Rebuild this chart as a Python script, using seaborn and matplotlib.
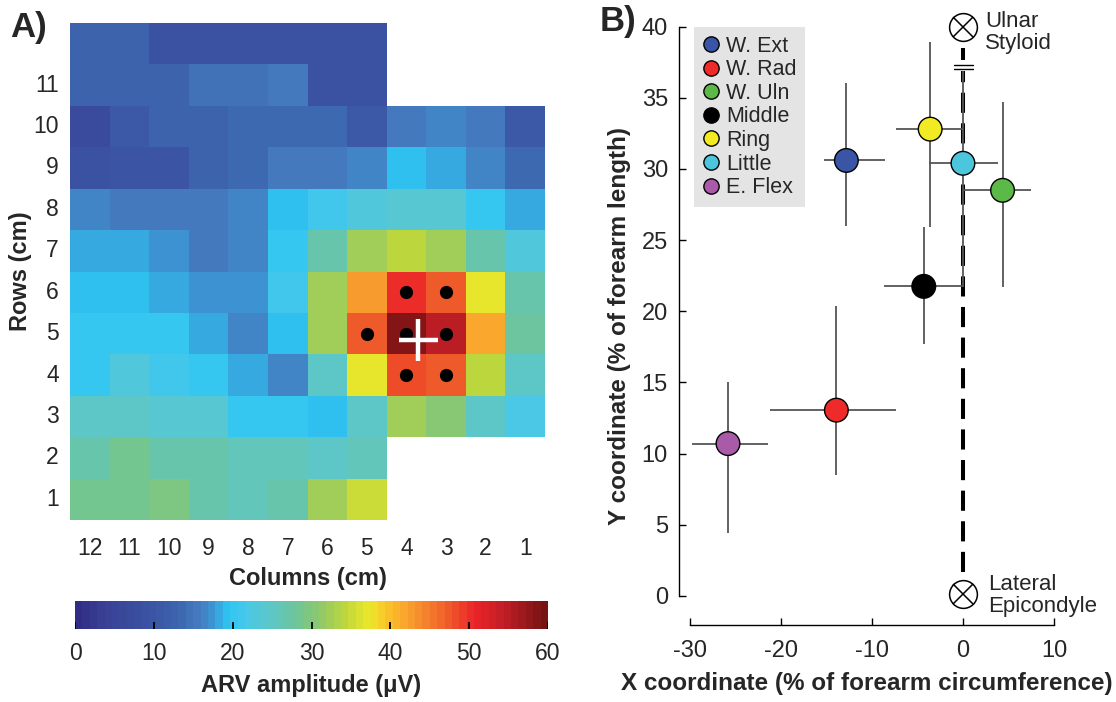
import numpy as np
import pandas as pd
import seaborn as sns
import matplotlib.pyplot as plt
from matplotlib.colors import LinearSegmentedColormap
from matplotlib.lines import Line2D

sns.set_style('white')
plt.rcParams['font.family'] = ['Liberation Sans', 'DejaVu Sans']
plt.rcParams['axes.unicode_minus'] = False

# ---- panel A: ARV amplitude map (uV), rows 12 (top) .. 1, columns 12 .. 1
row_labels = [12, 11, 10, 9, 8, 7, 6, 5, 4, 3, 2, 1]
col_labels = [12, 11, 10, 9, 8, 7, 6, 5, 4, 3, 2, 1]
nan = np.nan
row12 = [13, 13, 9, 8.5, 8.5, 8.5, 9, 9, nan, nan, nan, nan]
row11 = [13, 13, 13, 14.5, 14.5, 15.5, 9, 9, nan, nan, nan, nan]
row10 = [7, 11, 12.5, 12.5, 14, 14, 14, 11, 15.5, 16.7, 15.5, 11]
row9 = [9, 10, 10, 12.5, 14, 15, 15, 16.7, 19.5, 18, 16.7, 14]
row8 = [16.7, 15.5, 15.5, 15.5, 16.7, 19.3, 21, 22.5, 23.5, 23.5, 19.8, 18]
row7 = [18, 18, 17.2, 15.5, 16.7, 19.8, 27, 32, 34.5, 32.5, 27, 22.5]
row6 = [19.3, 19.3, 18, 17.2, 17.2, 21, 32, 43, 50, 47, 37, 27]
row5 = [20.5, 19.8, 19.8, 18, 16.7, 19.3, 32, 47, 59, 55, 42, 28]
row4 = [20.5, 22.5, 21, 19.8, 18, 16.7, 24.5, 37, 48.5, 47, 34.5, 25]
row3 = [24.5, 24.5, 23.5, 23.5, 19.8, 19.8, 19.3, 24.5, 32, 30, 24.5, 22]
row2 = [27, 28.5, 27, 27, 26, 26, 25, 26, nan, nan, nan, nan]
row1 = [28.5, 28.5, 29.5, 27, 26, 27, 32, 35.5, nan, nan, nan, nan]
cbar_ticks = [0, 10, 20, 30, 40, 50, 60]

# channels marked with dots (column, row) and centroid location
dot_cols = [4, 3, 5, 4, 3, 4, 3]
dot_rows = [6, 6, 5, 5, 5, 4, 4]
centroid_col = 3.7
centroid_row = 4.85

# ---- panel B: muscle locations (% of forearm)
muscles = ['W. Ext', 'W. Rad', 'W. Uln', 'Middle', 'Ring', 'Little', 'E. Flex']
colors = ['#3a55a5', '#ee2a2a', '#5ab947', '#000000', '#f2ea22', '#4cc6dc', '#a95aa8']
x_mid = [-12.8, -13.9, 4.35, -4.3, -3.6, 0.0, -25.8]
x_low = [-15.3, -21.2, 0.0, -8.7, -7.4, -3.7, -29.8]
x_high = [-8.55, -7.3, 7.5, 0.0, 0.0, 3.9, -21.4]
y_mid = [30.6, 13.05, 28.5, 21.75, 32.8, 30.4, 10.7]
y_low = [26.0, 8.5, 21.7, 17.7, 25.9, 21.7, 4.4]
y_high = [36.06, 20.4, 34.7, 25.9, 38.9, 36.9, 15.0]

# colormap similar to the original
cmap = LinearSegmentedColormap.from_list('arv', [
    (0.0, '#302d84'), (3 / 60, '#393f93'), (7 / 60, '#3a4c9e'), (10 / 60, '#3b56a5'),
    (13 / 60, '#3c66ae'), (15.5 / 60, '#467bbf'), (17 / 60, '#3e90d0'), (18.3 / 60, '#36aee4'),
    (19.3 / 60, '#2ec6f4'), (22 / 60, '#4cc8e6'), (25 / 60, '#5ec6c4'), (28 / 60, '#6ec598'),
    (31 / 60, '#8ec86c'), (34 / 60, '#b8d640'), (37.5 / 60, '#eee82a'), (40 / 60, '#fbbf2a'),
    (43 / 60, '#f8992e'), (47 / 60, '#f0642a'), (51 / 60, '#eb2428'), (55 / 60, '#be1e26'),
    (1.0, '#761313')], N=64)

fig = plt.figure(figsize=(11.16, 7.02), dpi=100)
ax_a = fig.add_axes([70 / 1116, 1 - 520 / 702, 475 / 1116, 497 / 702])
cax = fig.add_axes([75 / 1116, 1 - 629 / 702, 473 / 1116, 28 / 702])

arv = pd.DataFrame([row12, row11, row10, row9, row8, row7, row6, row5, row4, row3, row2, row1],
                   index=row_labels, columns=col_labels)
sns.heatmap(arv, ax=ax_a, cmap=cmap, vmin=0, vmax=60, cbar=False)

ax_a.set_yticks(np.arange(len(row_labels)) + 0.5)
ax_a.set_yticklabels([str(r) if r <= 11 else '' for r in row_labels], rotation=0)
ax_a.set_xticks(np.arange(len(col_labels)) + 0.5)
ax_a.set_xticklabels([str(c) for c in col_labels], rotation=0)
ax_a.tick_params(axis='both', length=0, labelsize=16.5)
ax_a.tick_params(axis='y', pad=8)
ax_a.tick_params(axis='x', pad=12)
ax_a.set_ylabel('Rows (cm)', fontsize=17, fontweight='bold', labelpad=1)
ax_a.set_xlabel('Columns (cm)', fontsize=17, fontweight='bold', labelpad=5)

# electrode dots and centroid cross
dx = [col_labels.index(c) + 0.5 for c in dot_cols]
dy = [row_labels.index(r) + 0.5 for r in dot_rows]
ax_a.plot(dx, dy, 'o', color='k', ms=8.5, ls='none')
cx = col_labels[0] - centroid_col + 0.5
cy = row_labels[0] - centroid_row + 0.5
ax_a.plot([cx - 0.5, cx + 0.5], [cy, cy], color='white', lw=3.2, solid_capstyle='butt')
ax_a.plot([cx, cx], [cy - 0.5, cy + 0.5], color='white', lw=3.2, solid_capstyle='butt')

# colorbar: no frame, small ticks drawn inside the bar
cbar = fig.colorbar(ax_a.collections[0], cax=cax, orientation='horizontal', ticks=cbar_ticks)
cbar.outline.set_visible(False)
cax.tick_params(which='both', length=0, labelsize=16.5, pad=9)
cax.vlines(cbar_ticks, 0, 0.25, color='k', lw=1.3, transform=cax.get_xaxis_transform(), zorder=5)
cax.set_xlabel('ARV amplitude (μV)', fontsize=17, fontweight='bold', labelpad=7)

fig.text(29 / 1116, 1 - 27 / 702, 'A)', fontsize=25, fontweight='bold', ha='center', va='center')

# ---- panel B
ax_b = fig.add_axes([679 / 1116, 1 - 625 / 702, 375 / 1116, 598.3 / 702])
ax_b.set_xlim(-31.18, 10)
ax_b.set_ylim(-2.05, 40)

# reference line from lateral epicondyle to ulnar styloid
ax_b.plot([0, 0], [1.7, 36.9], color='k', lw=2.9, ls=(0, (5, 2.6)), zorder=1)
ax_b.plot([0, 0], [37.65, 38.5], color='k', lw=2.9, solid_capstyle='butt', zorder=1)
ax_b.plot([-0.95, 1.1], [37.3, 37.3], color='k', lw=1.0, zorder=2)
ax_b.plot([-0.95, 1.1], [37.06, 37.06], color='k', lw=1.0, zorder=2)

loc = pd.DataFrame({'muscle': muscles, 'x': x_mid, 'y': y_mid,
                    'xl': x_low, 'xh': x_high, 'yl': y_low, 'yh': y_high})
xerr = [loc['x'] - loc['xl'], loc['xh'] - loc['x']]
yerr = [loc['y'] - loc['yl'], loc['yh'] - loc['y']]
ax_b.errorbar(loc['x'], loc['y'], xerr=xerr, yerr=yerr, fmt='none', ecolor='#555555',
              elinewidth=1.3, capsize=0, zorder=3)
sns.scatterplot(data=loc, x='x', y='y', hue='muscle', palette=colors, s=290,
                edgecolor='k', linewidth=1.0, ax=ax_b, legend=False, zorder=4)

for yy in [39.95, 0.1]:
    ax_b.plot(0, yy, 'o', ms=20, mfc='white', mec='k', mew=1.1, zorder=5, clip_on=False)
    ax_b.plot(0, yy, 'x', ms=14, mec='k', mew=1.1, zorder=6, clip_on=False)
ax_b.text(2.4, 39.6, 'Ulnar\nStyloid', fontsize=16, ha='left', va='center', linespacing=1.05)
ax_b.text(2.8, 0.05, 'Lateral\nEpicondyle', fontsize=16, ha='left', va='center', linespacing=1.05)

sns.despine(ax=ax_b)
ax_b.spines['left'].set_bounds(0, 40)
ax_b.spines['bottom'].set_bounds(-30, 10)
for sp in ['left', 'bottom']:
    ax_b.spines[sp].set_linewidth(1.0)
    ax_b.spines[sp].set_color('k')
ax_b.set_xticks([-30, -20, -10, 0, 10])
ax_b.set_yticks([0, 5, 10, 15, 20, 25, 30, 35, 40])
ax_b.tick_params(direction='in', bottom=True, left=True, length=5, width=1.0, color='k',
                 labelsize=17)
ax_b.tick_params(axis='x', pad=11)
ax_b.tick_params(axis='y', pad=8)
ax_b.set_xlabel('X coordinate (% of forearm circumference)', fontsize=17.5, fontweight='bold',
                labelpad=7)
ax_b.set_ylabel('Y coordinate (% of forearm length)', fontsize=17.5, fontweight='bold', labelpad=8)

handles = [Line2D([], [], ls='none', marker='o', ms=11, mfc=c, mec='k', mew=1.0) for c in colors]
leg = ax_b.legend(handles, muscles, loc='upper left', bbox_to_anchor=(694 / 1116, 1 - 27 / 702),
                  bbox_transform=fig.transFigure, borderaxespad=0, fontsize=15.5, frameon=True,
                  fancybox=False, facecolor='#e4e4e4', edgecolor='none', framealpha=1,
                  handlelength=0.8, handletextpad=0.3, labelspacing=0.12, borderpad=0.4)

fig.text(618 / 1116, 1 - 22 / 702, 'B)', fontsize=25, fontweight='bold', ha='center', va='center')

fig.savefig('out.png', dpi=100)
